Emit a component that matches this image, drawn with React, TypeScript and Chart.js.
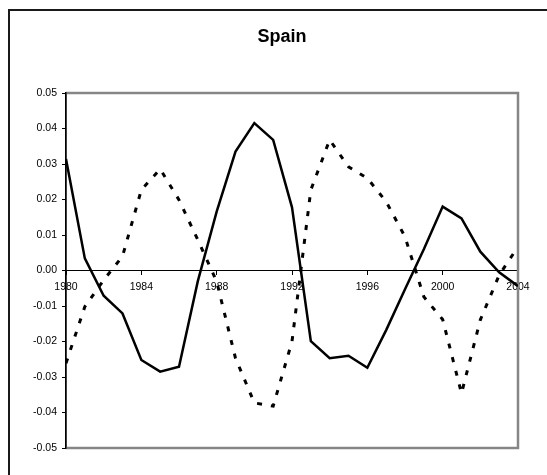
import React, { useEffect, useRef } from "react";
import { Chart, registerables } from "chart.js";

Chart.register(...registerables);

const chartTitle = "Spain";
const years = [
  1980, 1981, 1982, 1983, 1984, 1985, 1986, 1987, 1988, 1989, 1990, 1991, 1992,
  1993, 1994, 1995, 1996, 1997, 1998, 1999, 2000, 2001, 2002, 2003, 2004,
];
const solidSeries = [
  0.0314, 0.0034, -0.0071, -0.0121, -0.0252, -0.0285, -0.0271, -0.003, 0.0166,
  0.0335, 0.0415, 0.0368, 0.0178, -0.0199, -0.0247, -0.024, -0.0274, -0.0168,
  -0.0053, 0.006, 0.018, 0.0147, 0.0053, -0.0005, -0.0044,
];
const dashedSeries = [
  -0.0261, -0.0102, -0.0027, 0.004, 0.0227, 0.0286, 0.0199, 0.0086, -0.0031,
  -0.0247, -0.0373, -0.0382, -0.02, 0.0227, 0.0368, 0.0292, 0.026, 0.0194,
  0.0095, -0.0074, -0.0138, -0.0346, -0.0139, -0.0013, 0.0067,
];
const xTickYears = [1980, 1984, 1988, 1992, 1996, 2000, 2004];
const yTickValues = [0.05, 0.04, 0.03, 0.02, 0.01, 0, -0.01, -0.02, -0.03, -0.04, -0.05];

const FONT = "'Liberation Sans', Arial, sans-serif";

const decorPlugin = {
  id: "decor",
  beforeDraw(chart: any) {
    const { ctx, width, height } = chart;
    ctx.save();
    ctx.fillStyle = "#ffffff";
    ctx.fillRect(0, 0, width, height);
    ctx.strokeStyle = "#1a1a1a";
    ctx.lineWidth = 2;
    ctx.strokeRect(9, 10, width + 40, height + 40);
    ctx.restore();
  },
  beforeDatasetsDraw(chart: any) {
    const { ctx, chartArea } = chart;
    const { left, right, top, bottom } = chartArea;
    ctx.save();
    ctx.strokeStyle = "#868686";
    ctx.lineWidth = 2.5;
    ctx.beginPath();
    ctx.moveTo(left, top);
    ctx.lineTo(right, top);
    ctx.lineTo(right, bottom);
    ctx.lineTo(left, bottom);
    ctx.stroke();
    ctx.strokeStyle = "#000000";
    ctx.lineWidth = 1.5;
    ctx.beginPath();
    ctx.moveTo(left - 0.25, top - 1);
    ctx.lineTo(left - 0.25, bottom + 1);
    ctx.stroke();
    ctx.restore();
  },
  afterDraw(chart: any) {
    const { ctx } = chart;
    ctx.save();
    ctx.fillStyle = "#000000";
    ctx.font = `bold 18px ${FONT}`;
    ctx.textAlign = "center";
    ctx.textBaseline = "alphabetic";
    ctx.fillText(chartTitle, 282, 42);
    ctx.restore();
  },
};

export default function App() {
  const canvasRef = useRef<HTMLCanvasElement | null>(null);

  useEffect(() => {
    if (!canvasRef.current) return;
    const chart = new Chart(canvasRef.current, {
      type: "line",
      data: {
        datasets: [
          {
            label: "solid",
            data: years.map((yr, i) => ({ x: yr, y: solidSeries[i] })),
            borderColor: "#000000",
            borderWidth: 2.5,
            pointRadius: 0,
            tension: 0,
            fill: false,
          },
          {
            label: "dashed",
            data: years.map((yr, i) => ({ x: yr, y: dashedSeries[i] })),
            borderColor: "#000000",
            borderWidth: 3,
            borderDash: [5, 9],
            pointRadius: 0,
            tension: 0,
            fill: false,
          },
        ],
      },
      options: {
        animation: false,
        responsive: false,
        layout: { padding: { left: 0, top: 93, right: 29, bottom: 27 } },
        plugins: {
          legend: { display: false },
          title: { display: false },
          tooltip: { enabled: false },
        },
        scales: {
          x: {
            type: "linear",
            position: { y: 0 },
            min: years[0],
            max: years[years.length - 1],
            afterBuildTicks: (scale: any) => {
              scale.ticks = xTickYears.map((v) => ({ value: v }));
            },
            ticks: {
              autoSkip: false,
              maxRotation: 0,
              padding: 6,
              color: "#000000",
              font: { family: FONT, size: 10.5 },
              callback: (v: any) => String(v),
            },
            grid: {
              drawOnChartArea: false,
              drawTicks: true,
              tickLength: 4,
              color: "#000000",
              lineWidth: 1,
            },
            border: { display: true, color: "#000000", width: 1 },
          },
          y: {
            type: "linear",
            position: "left",
            min: -0.05,
            max: 0.05,
            afterBuildTicks: (scale: any) => {
              scale.ticks = yTickValues.map((v) => ({ value: v }));
            },
            afterFit: (scale: any) => {
              scale.width = 66;
            },
            ticks: {
              padding: 5,
              color: "#000000",
              font: { family: FONT, size: 10.5 },
              callback: (v: any) => (Math.abs(v) < 1e-9 ? "0.00" : Number(v).toFixed(2)),
            },
            grid: {
              drawOnChartArea: false,
              drawTicks: true,
              tickLength: 4,
              color: "#000000",
              lineWidth: 1,
            },
            border: { display: true, color: "#000000", width: 1.5 },
          },
        },
      },
      plugins: [decorPlugin],
    } as any);
    return () => chart.destroy();
  }, []);

  return (
    <div style={{ position: "fixed", left: 0, top: 0, width: 547, height: 475, background: "#fff" }}>
      <canvas ref={canvasRef} width={547} height={475} style={{ display: "block" }} />
    </div>
  );
}
